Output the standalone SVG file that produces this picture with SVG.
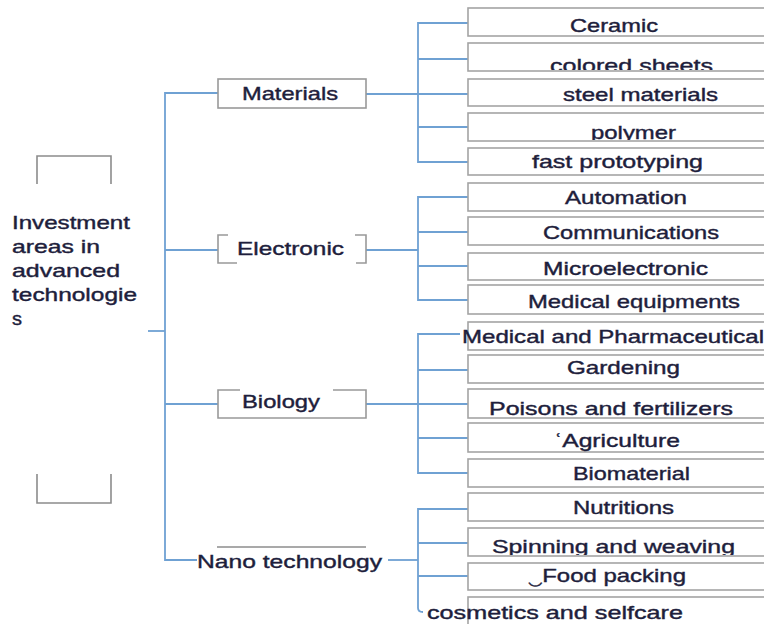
<svg xmlns="http://www.w3.org/2000/svg" width="764" height="624" viewBox="0 0 764 624">
<style>
text{font-family:"Liberation Sans",Arial,sans-serif;fill:#1e1e3c;stroke:#1e1e3c;stroke-width:0.4;}
.t{font-size:18.5px;}
.n{font-size:19px;}
.r{font-size:18.5px;}
.leaf{fill:#fff;stroke:#a4a4a4;stroke-width:1.6;}
.nb{fill:none;stroke:#999;stroke-width:1.6;}
.br{fill:none;stroke:#8c8c8c;stroke-width:1.6;}
.c{fill:none;stroke:#6fa1d3;stroke-width:1.8;}
</style>
<defs>
<clipPath id="clipColored"><rect x="468" y="40" width="300" height="30"/></clipPath>
<clipPath id="clipPolymer"><rect x="468" y="110" width="300" height="30"/></clipPath>
<clipPath id="clipSpin"><rect x="468" y="525" width="300" height="30"/></clipPath>
</defs>
<rect width="764" height="624" fill="#fff"/>

<g id="connectors">
<path class="c" d="M148,331 H165"/>
<path class="c" d="M218,93 H165 V560 H197"/>
<path class="c" d="M165,250 H218"/>
<path class="c" d="M165,404 H218"/>
<path class="c" d="M366,94 H418"/>
<path class="c" d="M468,23 H418 V162 H468 M418,59 H468 M418,94 H468 M418,127 H468"/>
<path class="c" d="M366,250 H418"/>
<path class="c" d="M468,197 H418 V300 H468 M418,232 H468 M418,266 H468"/>
<path class="c" d="M366,404 H418"/>
<path class="c" d="M460,334 H418 V473 H468 M418,370 H468 M418,404 H468 M418,438 H468"/>
<path class="c" d="M388,560 H418"/>
<path class="c" d="M468,509 H418 V608 Q418,612 423,612 M418,543 H468 M418,576 H468"/>
</g>

<g id="root">
<path class="br" d="M37,184 V156 H111 V184"/>
<path class="br" d="M37,474 V503 H111 V474"/>
<text class="r" x="12" y="229" textLength="118" lengthAdjust="spacingAndGlyphs">Investment</text>
<text class="r" x="12" y="253" textLength="88" lengthAdjust="spacingAndGlyphs">areas in</text>
<text class="r" x="12" y="277" textLength="108" lengthAdjust="spacingAndGlyphs">advanced</text>
<text class="r" x="12" y="301" textLength="125" lengthAdjust="spacingAndGlyphs">technologie</text>
<text class="r" x="12" y="325" textLength="10" lengthAdjust="spacingAndGlyphs">s</text>
</g>

<g id="materials">
<rect class="nb" x="218" y="79" width="148" height="29"/>
<text class="n" x="242" y="100" textLength="96" lengthAdjust="spacingAndGlyphs">Materials</text>
</g>
<g id="electronic">
<path class="nb" d="M228,235 H218 V263 H237 M355,235 H366 V263 H356"/>
<text class="n" x="237" y="255" textLength="107" lengthAdjust="spacingAndGlyphs">Electronic</text>
</g>
<g id="biology">
<path class="nb" d="M240,390 H218 V418 H366 V390 H333"/>
<text class="n" x="242" y="408" textLength="78" lengthAdjust="spacingAndGlyphs">Biology</text>
</g>
<g id="nano">
<path d="M217,547 H366" stroke="#8c8c8c" stroke-width="1.3" fill="none"/>
<text class="n" x="197" y="568" textLength="185" lengthAdjust="spacingAndGlyphs">Nano technology</text>
</g>

<g id="ceramic"><rect class="leaf" x="468" y="8" width="310" height="28"/>
<text class="t" x="570" y="32" textLength="88" lengthAdjust="spacingAndGlyphs">Ceramic</text></g>
<g id="colored"><rect class="leaf" x="468" y="43" width="310" height="28"/>
<text class="t" x="550" y="72" textLength="163" lengthAdjust="spacingAndGlyphs" clip-path="url(#clipColored)">colored sheets</text></g>
<g id="steel"><rect class="leaf" x="468" y="79" width="310" height="27"/>
<text class="t" x="563" y="101" textLength="155" lengthAdjust="spacingAndGlyphs">steel materials</text></g>
<g id="polymer"><rect class="leaf" x="468" y="113" width="310" height="28"/>
<text class="t" x="591" y="139" textLength="85" lengthAdjust="spacingAndGlyphs" clip-path="url(#clipPolymer)">polymer</text></g>
<g id="fastproto"><rect class="leaf" x="468" y="148" width="310" height="27"/>
<text class="t" x="532" y="168" textLength="171" lengthAdjust="spacingAndGlyphs">fast prototyping</text></g>

<g id="automation"><rect class="leaf" x="468" y="183" width="310" height="28"/>
<text class="t" x="565" y="204" textLength="122" lengthAdjust="spacingAndGlyphs">Automation</text></g>
<g id="communications"><rect class="leaf" x="468" y="217" width="310" height="28"/>
<text class="t" x="543" y="239" textLength="176" lengthAdjust="spacingAndGlyphs">Communications</text></g>
<g id="microelectronic"><rect class="leaf" x="468" y="253" width="310" height="27"/>
<text class="t" x="543" y="275" textLength="165" lengthAdjust="spacingAndGlyphs">Microelectronic</text></g>
<g id="medequip"><rect class="leaf" x="468" y="285" width="310" height="29"/>
<text class="t" x="528" y="308" textLength="212" lengthAdjust="spacingAndGlyphs">Medical equipments</text></g>

<g id="medpharma"><rect class="leaf" x="468" y="322" width="310" height="28"/>
<text class="t" x="462" y="343" textLength="302" lengthAdjust="spacingAndGlyphs">Medical and Pharmaceutical</text></g>
<g id="gardening"><rect class="leaf" x="468" y="355" width="310" height="28"/>
<text class="t" x="567" y="374" textLength="113" lengthAdjust="spacingAndGlyphs">Gardening</text></g>
<g id="poisons"><rect class="leaf" x="468" y="389" width="310" height="29"/>
<text class="t" x="489" y="415" textLength="244" lengthAdjust="spacingAndGlyphs">Poisons and fertilizers</text></g>
<g id="agriculture"><rect class="leaf" x="468" y="423" width="310" height="29"/>
<text class="t" x="554" y="447" textLength="126" lengthAdjust="spacingAndGlyphs">ʿAgriculture</text></g>
<g id="biomaterial"><rect class="leaf" x="468" y="459" width="310" height="28"/>
<text class="t" x="573" y="480" textLength="117" lengthAdjust="spacingAndGlyphs">Biomaterial</text></g>

<g id="nutritions"><rect class="leaf" x="468" y="493" width="310" height="28"/>
<text class="t" x="573" y="514" textLength="101" lengthAdjust="spacingAndGlyphs">Nutritions</text></g>
<g id="spinning"><rect class="leaf" x="468" y="528" width="310" height="28"/>
<text class="t" x="492" y="553" textLength="243" lengthAdjust="spacingAndGlyphs" clip-path="url(#clipSpin)">Spinning and weaving</text></g>
<g id="food"><rect class="leaf" x="468" y="563" width="310" height="27"/>
<text class="t" x="528" y="582" textLength="158" lengthAdjust="spacingAndGlyphs">‿Food packing</text></g>
<g id="cosmetics"><rect class="leaf" x="468" y="597" width="310" height="40"/>
<text class="t" x="427" y="619" textLength="256" lengthAdjust="spacingAndGlyphs">cosmetics and selfcare</text></g>
</svg>
